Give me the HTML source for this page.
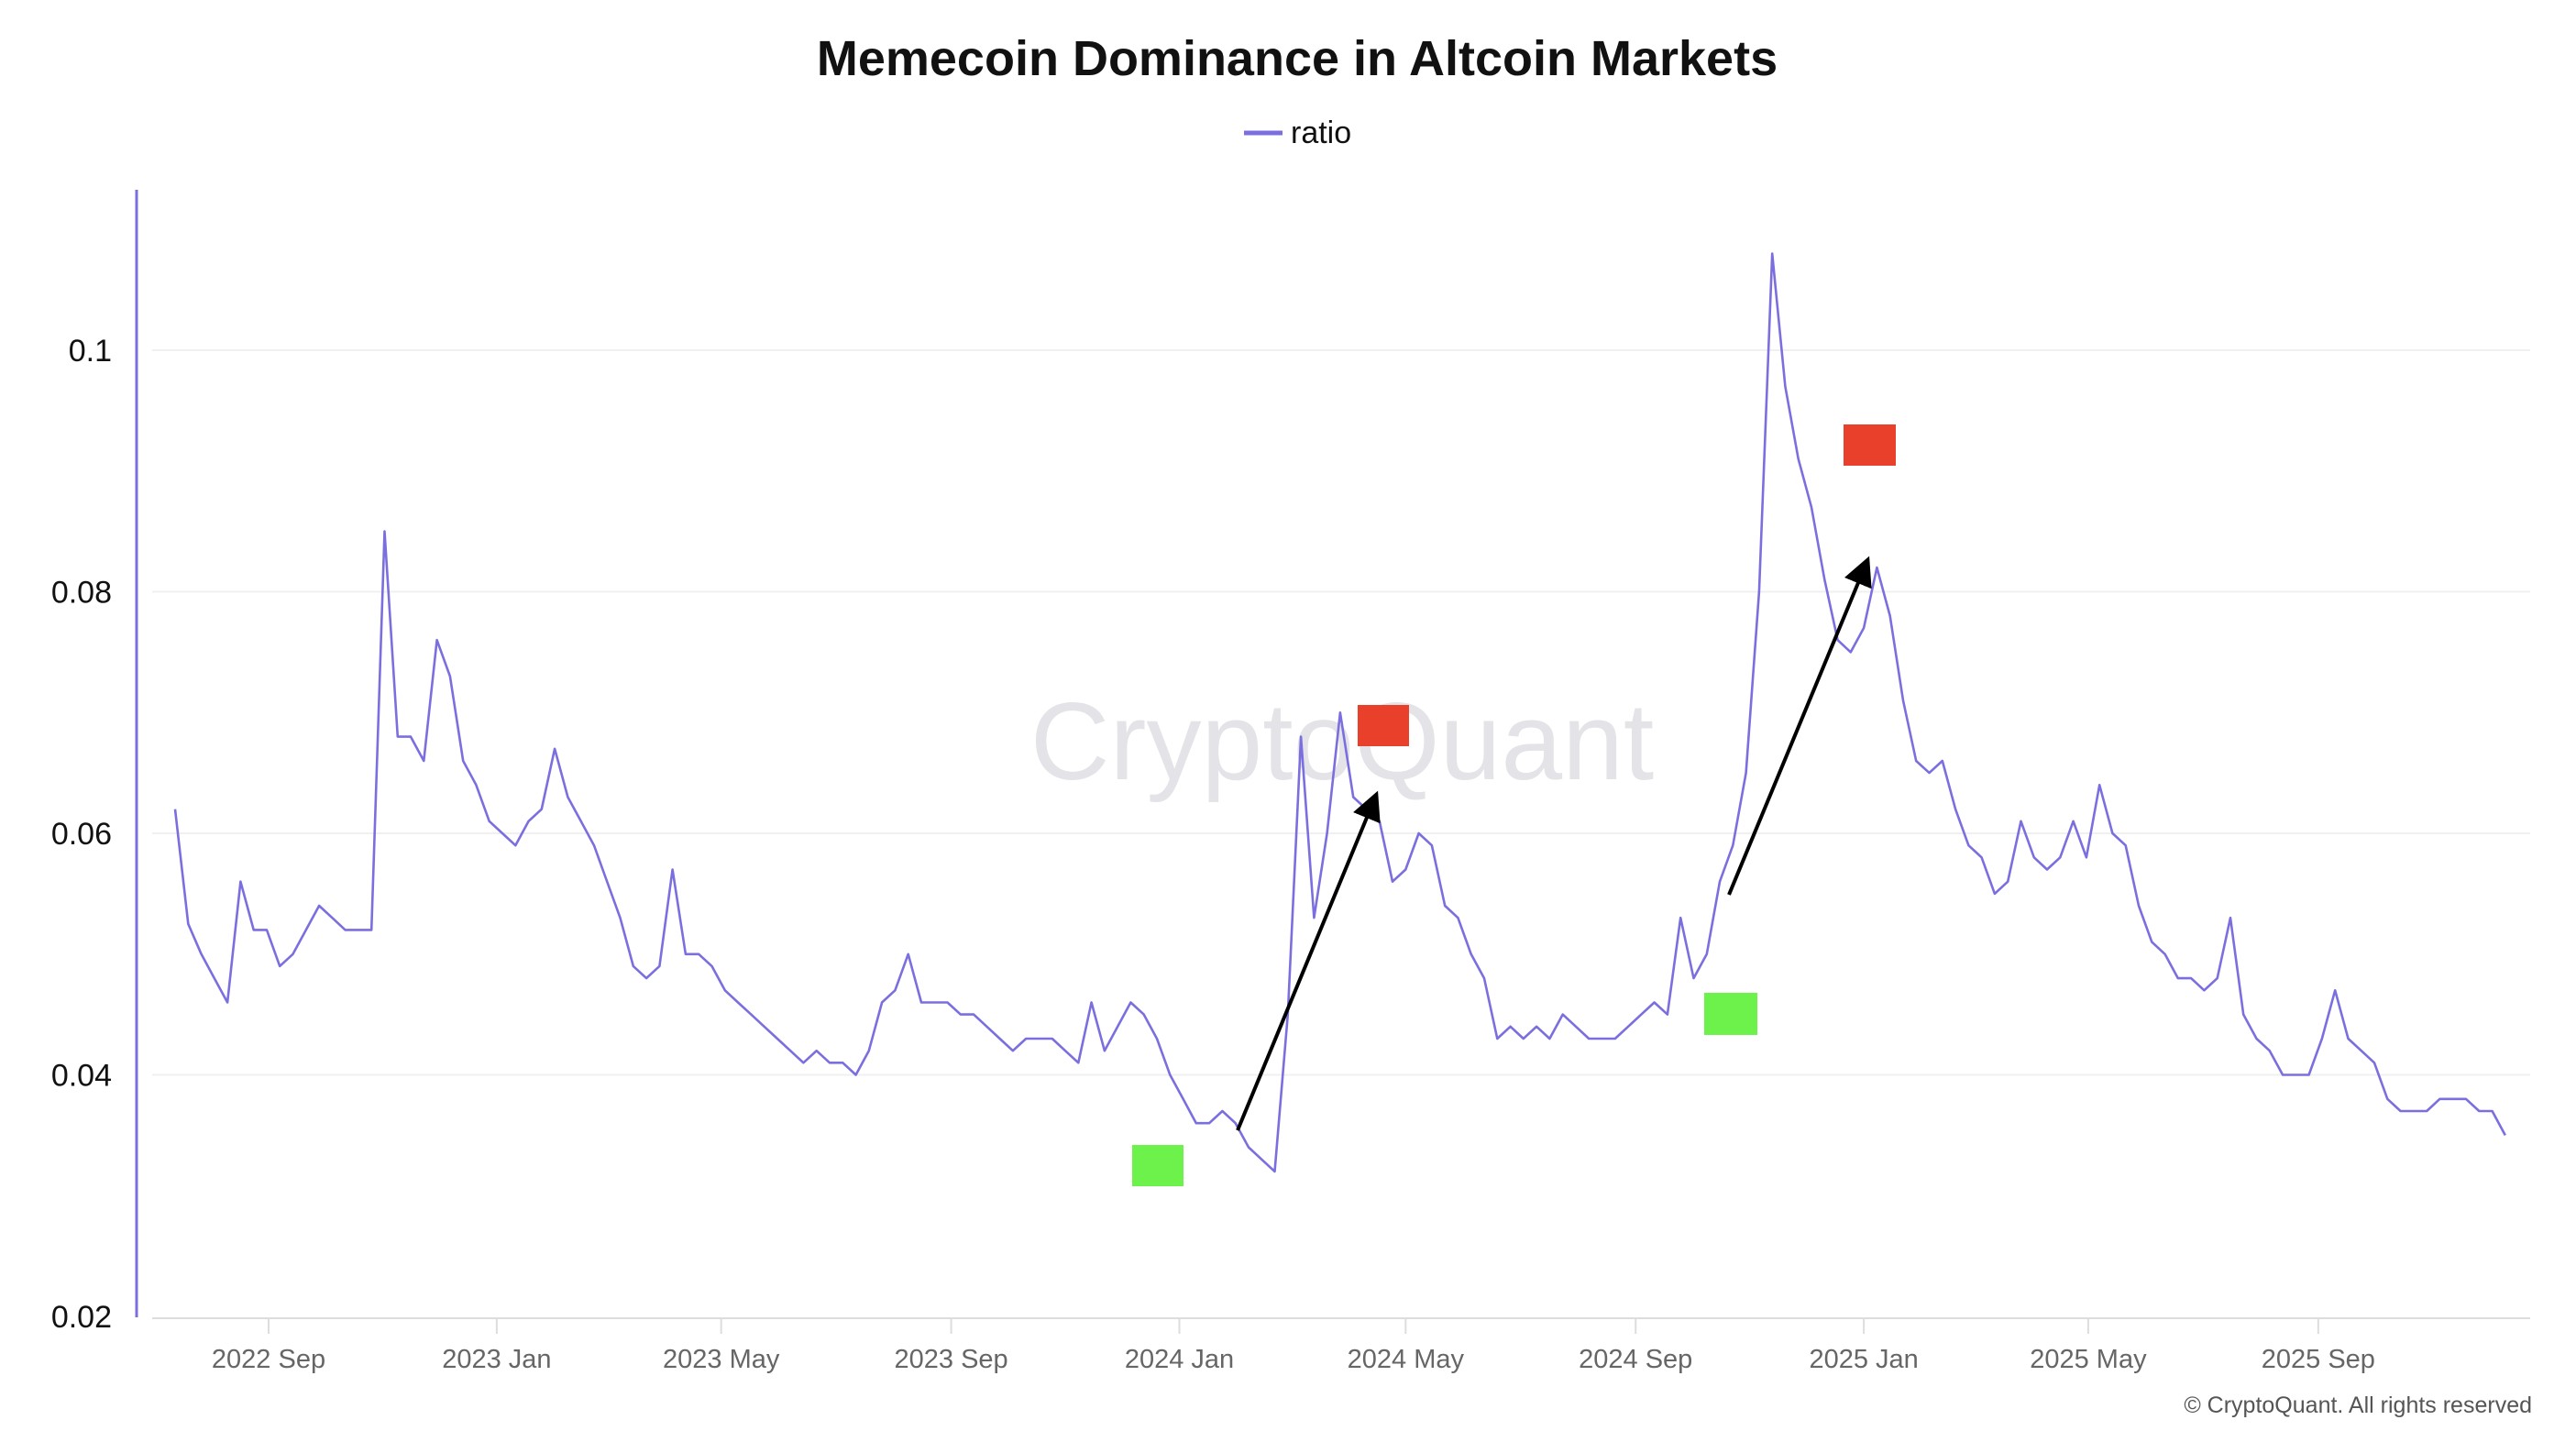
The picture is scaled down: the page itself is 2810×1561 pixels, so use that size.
<!DOCTYPE html>
<html><head><meta charset="utf-8"><style>
html,body{margin:0;padding:0;background:#fff;}
body{width:2810px;height:1556px;overflow:hidden;font-family:"Liberation Sans",sans-serif;}
</style></head><body>
<svg id="chart" width="2810" height="1556" xmlns="http://www.w3.org/2000/svg">
<text x="1415" y="82" text-anchor="middle" font-size="54" font-weight="bold" fill="#111">Memecoin Dominance in Altcoin Markets</text>
<g>
<line x1="1357" y1="145" x2="1399" y2="145" stroke="#7b6fe0" stroke-width="5"/>
<text x="1408" y="156" font-size="34" fill="#111">ratio</text>
</g>
<text x="1464" y="850" text-anchor="middle" font-size="120" fill="#e4e4e8">CryptoQuant</text>
<g id="grid"></g>
<g id="yaxis"></g>
<g id="xaxis"></g>
<path id="line" fill="none" stroke="#7b6fe0" stroke-width="2.6" stroke-linejoin="round"/>
<rect x="1235" y="1249" width="56" height="45" fill="#6cf24a"/>
<rect x="1859" y="1083" width="58" height="46" fill="#6cf24a"/>
<rect x="1481" y="769" width="56" height="45" fill="#e8402a"/>
<rect x="2011" y="463" width="57" height="45" fill="#e8402a"/>
<defs><marker id="ah" markerWidth="8" markerHeight="8" refX="6" refY="4" orient="auto" markerUnits="strokeWidth"><path d="M0,0 L8,4 L0,8 z" fill="#000"/></marker></defs>
<line x1="1350" y1="1233" x2="1500" y2="870" stroke="#000" stroke-width="4" marker-end="url(#ah)"/>
<line x1="1886" y1="976" x2="2036" y2="614" stroke="#000" stroke-width="4" marker-end="url(#ah)"/>
<text x="2762" y="1541" text-anchor="end" font-size="25" fill="#555">© CryptoQuant. All rights reserved</text>
</svg>
<script>
const yTicks=[0.02,0.04,0.06,0.08,0.1];
const yTickLabels=["0.02","0.04","0.06","0.08","0.1"];
const xTickDates=["2022-09-01","2023-01-01","2023-05-01","2023-09-01","2024-01-01","2024-05-01","2024-09-01","2025-01-01","2025-05-01","2025-09-01"];
const xTickLabels=["2022 Sep","2023 Jan","2023 May","2023 Sep","2024 Jan","2024 May","2024 Sep","2025 Jan","2025 May","2025 Sep"];
const startDate="2022-07-13";
const stepDays=7;
const ratio=[0.062,0.0525,0.050,0.048,0.046,0.056,0.052,0.052,0.049,0.050,0.052,0.054,0.053,0.052,0.052,0.052,0.085,0.068,0.068,0.066,0.076,0.073,0.066,0.064,0.061,0.060,0.059,0.061,0.062,0.067,0.063,0.061,0.059,0.056,0.053,0.049,0.048,0.049,0.057,0.050,0.050,0.049,0.047,0.046,0.045,0.044,0.043,0.042,0.041,0.042,0.041,0.041,0.040,0.042,0.046,0.047,0.050,0.046,0.046,0.046,0.045,0.045,0.044,0.043,0.042,0.043,0.043,0.043,0.042,0.041,0.046,0.042,0.044,0.046,0.045,0.043,0.040,0.038,0.036,0.036,0.037,0.036,0.034,0.033,0.032,0.045,0.068,0.053,0.060,0.070,0.063,0.062,0.061,0.056,0.057,0.060,0.059,0.054,0.053,0.050,0.048,0.043,0.044,0.043,0.044,0.043,0.045,0.044,0.043,0.043,0.043,0.044,0.045,0.046,0.045,0.053,0.048,0.050,0.056,0.059,0.065,0.080,0.108,0.097,0.091,0.087,0.081,0.076,0.075,0.077,0.082,0.078,0.071,0.066,0.065,0.066,0.062,0.059,0.058,0.055,0.056,0.061,0.058,0.057,0.058,0.061,0.058,0.064,0.060,0.059,0.054,0.051,0.050,0.048,0.048,0.047,0.048,0.053,0.045,0.043,0.042,0.040,0.040,0.040,0.043,0.047,0.043,0.042,0.041,0.038,0.037,0.037,0.037,0.038,0.038,0.038,0.037,0.037,0.035];

const NS="http://www.w3.org/2000/svg";
const X0=166,X1=2760,Ybase=1436;
const day=86400000;
const refT=Date.parse("2022-09-01"),pxPerDay=2.040,refX=293;
function xs(t){return refX+(t-refT)/day*pxPerDay;}
function ys(v){return Ybase-(v-0.02)/0.02*263.5;}
const grid=document.getElementById('grid'),ya=document.getElementById('yaxis'),xa=document.getElementById('xaxis');
yTicks.forEach((v,i)=>{
 if(i>0){const l=document.createElementNS(NS,'line');
 
 
 l.setAttribute('x1',X0);l.setAttribute('x2',X1);l.setAttribute('y1',ys(v));l.setAttribute('y2',ys(v));
 l.setAttribute('stroke','#f0f0f0');l.setAttribute('stroke-width','2');grid.appendChild(l);}
 const t=document.createElementNS(NS,'text');
 
 
 t.setAttribute('x',122);t.setAttribute('y',ys(v)+12);t.setAttribute('text-anchor','end');
 t.setAttribute('font-size','34');t.setAttribute('fill','#111');t.textContent=yTickLabels[i];ya.appendChild(t);
});
const yl=document.createElementNS(NS,'line');


yl.setAttribute('x1',149);yl.setAttribute('x2',149);yl.setAttribute('y1',207);yl.setAttribute('y2',1437);
yl.setAttribute('stroke','#7b6fe0');yl.setAttribute('stroke-width','3');ya.appendChild(yl);
const xl=document.createElementNS(NS,'line');


xl.setAttribute('x1',X0);xl.setAttribute('x2',X1);xl.setAttribute('y1',1438);xl.setAttribute('y2',1438);
xl.setAttribute('stroke','#ddd');xl.setAttribute('stroke-width','2');xa.appendChild(xl);
xTickDates.forEach((d,i)=>{
 const x=xs(Date.parse(d));
 const tk=document.createElementNS(NS,'line');
 
 
 tk.setAttribute('x1',x);tk.setAttribute('x2',x);tk.setAttribute('y1',1439);tk.setAttribute('y2',1455);
 tk.setAttribute('stroke','#ddd');tk.setAttribute('stroke-width','2');xa.appendChild(tk);
 const t=document.createElementNS(NS,'text');
 
 
 t.setAttribute('x',x);t.setAttribute('y',1492);t.setAttribute('text-anchor','middle');
 t.setAttribute('font-size','29');t.setAttribute('fill','#666');t.textContent=xTickLabels[i];xa.appendChild(t);
});
const t0=Date.parse(startDate);
let d='';
ratio.forEach((v,i)=>{d+=(i?'L':'M')+xs(t0+i*stepDays*day).toFixed(1)+','+ys(v).toFixed(1);});
document.getElementById('line').setAttribute('d',d);
</script>
</body></html>
